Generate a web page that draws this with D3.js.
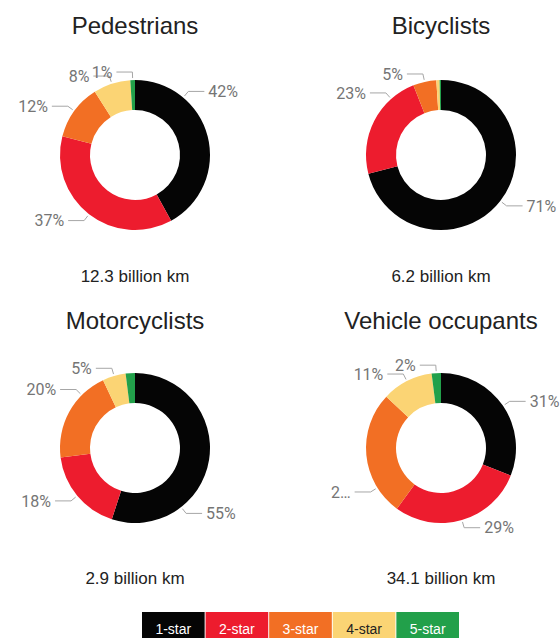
<!DOCTYPE html>
<html>
<head>
<meta charset="utf-8">
<script src="https://cdn.jsdelivr.net/npm/d3@7"></script>
<style>
  body { margin: 0; background: #fff; }
  svg { display: block; font-family: Arial, "Liberation Sans", sans-serif; }
</style>
</head>
<body>
<div id="container"></div>
<script>
// star ratings, same order in every donut
const categories = ["1-star", "2-star", "3-star", "4-star", "5-star"];
const starColors = ["#050505", "#ed1c2e", "#f26f24", "#fbd474", "#22a04a"];

const titles = ["Pedestrians", "Bicyclists", "Motorcyclists", "Vehicle occupants"];
const distances = ["12.3 billion km", "6.2 billion km", "2.9 billion km", "34.1 billion km"];

// share of travel (%) per star rating
const pedestrians = [42, 37, 12, 8, 1];
const bicyclists = [71, 23, 5, 0.7, 0.3];
const motorcyclists = [55, 18, 20, 5, 2];
const vehicleOccupants = [31, 29, 27, 11, 2];

// slice labels as printed (empty = not shown)
const pedestrianLabels = ["42%", "37%", "12%", "8%", "1%"];
const bicyclistLabels = ["71%", "23%", "5%", "", ""];
const motorcyclistLabels = ["55%", "18%", "20%", "5%", ""];
const vehicleLabels = ["31%", "29%", "2…", "11%", "2%"];

const series = [pedestrians, bicyclists, motorcyclists, vehicleOccupants];
const labels = [pedestrianLabels, bicyclistLabels, motorcyclistLabels, vehicleLabels];

const width = 560, height = 638;
const outerR = 75, innerR = 45;
const colX = [135, 441];
const rowY = [155, 448];
const titleY = [34, 329];
const distY = [282, 584];

const svg = d3.select("#container").append("svg")
  .attr("width", width)
  .attr("height", height);

const pie = d3.pie().sort(null).value(d => d);
const arc = d3.arc().innerRadius(innerR).outerRadius(outerR);
const color = d3.scaleOrdinal().domain(categories).range(starColors);

const deg = Math.PI / 180;
const polar = (r, a) => [r * Math.sin(a), -r * Math.cos(a)];

// pick the point on the slice where the leader line starts;
// slices centred near the horizontal get nudged away from it
function labelAngle(d) {
  let a = (d.startAngle + d.endAngle) / 2;
  const h = a < Math.PI ? 90 * deg : 270 * deg;
  if (Math.abs(a - h) < 29 * deg) {
    a = a < h ? h - 50 * deg : h + 52 * deg;
    a = Math.max(d.startAngle + 22 * deg, Math.min(d.endAngle - 20 * deg, a));
  }
  return a;
}

series.forEach((values, i) => {
  const col = i % 2, row = Math.floor(i / 2);
  const cx = colX[col], cy = rowY[row];

  svg.append("text")
    .attr("x", cx)
    .attr("y", titleY[row])
    .attr("text-anchor", "middle")
    .attr("fill", "#222")
    .style("font-size", "24px")
    .text(titles[i]);

  svg.append("text")
    .attr("x", cx)
    .attr("y", distY[row])
    .attr("text-anchor", "middle")
    .attr("fill", "#222")
    .style("font-size", "17px")
    .text(distances[i]);

  const g = svg.append("g").attr("transform", `translate(${cx},${cy})`);
  const arcs = pie(values);

  g.selectAll("path.slice")
    .data(arcs)
    .join("path")
    .attr("class", "slice")
    .attr("d", arc)
    .attr("fill", (d, j) => color(categories[j]));

  const shown = arcs.filter((d, j) => labels[i][j] !== "");
  shown.forEach(d => {
    const j = d.index;
    const a = labelAngle(d);
    const dir = Math.sin(a) >= 0 ? 1 : -1;
    const p1 = polar(outerR + 2, a);
    const p2 = polar(outerR + 8, a);
    const p3 = [p2[0] + dir * 16, p2[1]];

    g.append("polyline")
      .attr("points", [p1, p2, p3].map(p => p.join(",")).join(" "))
      .attr("fill", "none")
      .attr("stroke", "#a6a6a6")
      .attr("stroke-width", 1);

    g.append("text")
      .attr("x", p3[0] + dir * 4)
      .attr("y", p3[1])
      .attr("dy", "0.36em")
      .attr("text-anchor", dir > 0 ? "start" : "end")
      .attr("fill", "#757575")
      .style("font-family", "Roboto, Arial, sans-serif")
      .style("font-size", "16px")
      .text(labels[i][j]);
  });
});

// legend strip along the bottom
const legendX = d3.scaleBand().domain(categories).range([142, 459]).paddingInner(0.015);
const legend = svg.append("g").attr("transform", "translate(0,612)");

legend.selectAll("rect")
  .data(categories)
  .join("rect")
  .attr("x", d => legendX(d))
  .attr("y", 0)
  .attr("width", legendX.bandwidth())
  .attr("height", 30)
  .attr("fill", d => color(d));

legend.selectAll("text")
  .data(categories)
  .join("text")
  .attr("x", d => legendX(d) + legendX.bandwidth() / 2)
  .attr("y", 21.5)
  .attr("text-anchor", "middle")
  .attr("fill", d => d === "4-star" ? "#222" : "#fff")
  .style("font-size", "14px")
  .text(d => d);
</script>
</body>
</html>
